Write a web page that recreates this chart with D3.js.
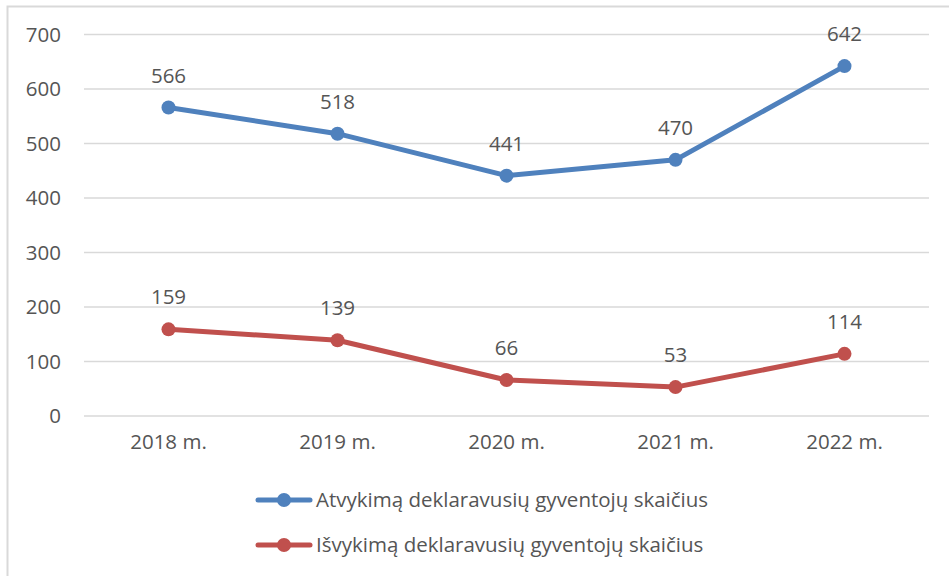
<!DOCTYPE html>
<html>
<head>
<meta charset="utf-8">
<style>
body { margin: 0; background: #fff; }
text { font-family: "Open Sans", sans-serif; fill: #555; font-size: 20.5px; }
.grid line { stroke: #d9d9d9; stroke-width: 1.5px; }
.line { fill: none; stroke-width: 5px; stroke-linecap: round; stroke-linejoin: round; }
</style>
</head>
<body>
<script src="https://cdn.jsdelivr.net/npm/d3@7"></script>
<script>
var years = ["2018 m.", "2019 m.", "2020 m.", "2021 m.", "2022 m."];
var arrivals = [566, 518, 441, 470, 642];
var departures = [159, 139, 66, 53, 114];
var yTicks = [0, 100, 200, 300, 400, 500, 600, 700];

var series = [
  {name: "Atvykimą deklaravusių gyventojų skaičius", values: arrivals, color: "#4f81bd"},
  {name: "Išvykimą deklaravusių gyventojų skaičius", values: departures, color: "#c0504d"}
];

var width = 949, height = 576;
var svg = d3.select("body").append("svg")
    .attr("width", width)
    .attr("height", height);

// chart frame
svg.append("rect")
    .attr("x", 7.5).attr("y", 6.5)
    .attr("width", 960).attr("height", 600)
    .attr("fill", "none")
    .attr("stroke", "#d9d9d9")
    .attr("stroke-width", 2);

var x = d3.scaleBand().domain(years).range([84, 929]);
var y = d3.scaleLinear().domain([0, 700]).range([416, 34.5]);

// gridlines
svg.append("g").attr("class", "grid")
  .selectAll("line").data(yTicks).enter().append("line")
    .attr("x1", 84).attr("x2", 929)
    .attr("y1", function(d) { return y(d); })
    .attr("y2", function(d) { return y(d); });

// y labels
svg.append("g").selectAll("text").data(yTicks).enter().append("text")
    .attr("x", 61)
    .attr("y", function(d) { return y(d); })
    .attr("dy", "0.35em")
    .attr("text-anchor", "end")
    .text(function(d) { return d; });

// x labels
svg.append("g").selectAll("text").data(years).enter().append("text")
    .attr("x", function(d) { return x(d) + x.bandwidth() / 2; })
    .attr("y", 449)
    .attr("text-anchor", "middle")
    .text(function(d) { return d; });

var line = d3.line()
    .x(function(d, i) { return x(years[i]) + x.bandwidth() / 2; })
    .y(function(d) { return y(d); });

series.forEach(function(s) {
  var g = svg.append("g");
  g.append("path")
      .attr("class", "line")
      .attr("d", line(s.values))
      .attr("stroke", s.color);
  g.selectAll("circle").data(s.values).enter().append("circle")
      .attr("cx", function(d, i) { return x(years[i]) + x.bandwidth() / 2; })
      .attr("cy", function(d) { return y(d); })
      .attr("r", 7)
      .attr("fill", s.color);
  g.selectAll("text").data(s.values).enter().append("text")
      .attr("x", function(d, i) { return x(years[i]) + x.bandwidth() / 2; })
      .attr("y", function(d) { return y(d) - 25; })
      .attr("text-anchor", "middle")
      .text(function(d) { return d; });
});

// legend
var legend = svg.append("g").selectAll("g").data(series).enter().append("g")
    .attr("transform", function(d, i) { return "translate(256," + (500 + i * 45) + ")"; });
legend.append("line")
    .attr("x1", 2).attr("x2", 54)
    .attr("stroke", function(d) { return d.color; })
    .attr("stroke-width", 5)
    .attr("stroke-linecap", "round");
legend.append("circle")
    .attr("cx", 28).attr("r", 7)
    .attr("fill", function(d) { return d.color; });
legend.append("text")
    .attr("x", 60)
    .attr("dy", "0.35em")
    .text(function(d) { return d.name; });
</script>
</body>
</html>
